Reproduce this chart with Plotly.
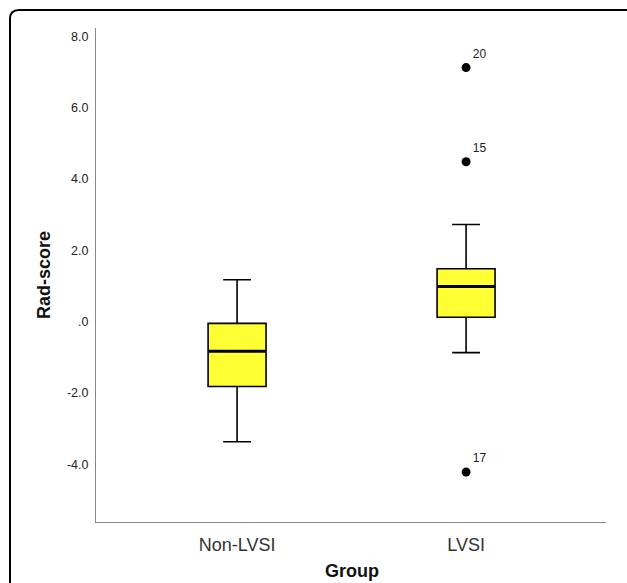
import plotly.graph_objects as go

# ---- data ----
groups = ["Non-LVSI", "LVSI"]
q1 = [-1.82, 0.12]
median = [-0.83, 0.98]
q3 = [-0.05, 1.48]
lower_fence = [-3.37, -0.87]
upper_fence = [1.17, 2.72]
outlier_group = [1, 1, 1]
outlier_values = [7.12, 4.48, -4.22]
outlier_ids = ["20", "15", "17"]
y_tick_vals = [-4, -2, 0, 2, 4, 6, 8]
y_tick_text = ["-4.0", "-2.0", ".0", "2.0", "4.0", "6.0", "8.0"]

W, H = 627, 583
ML, MR, MT, MB = 96, 21, 28, 61
PW, PH = W - ML - MR, H - MT - MB
BOX_W = 0.253
FONT = "Arial, Liberation Sans, sans-serif"

fig = go.Figure()
xs = list(range(len(groups)))
fig.add_trace(go.Box(
    x=xs, q1=q1, median=median, q3=q3,
    lowerfence=lower_fence, upperfence=upper_fence,
    width=BOX_W, whiskerwidth=0.48,
    fillcolor="#ffff33", line=dict(color="black", width=1.6),
    boxpoints=False, showlegend=False, hoverinfo="skip",
))
# thicker median lines
for i, m in enumerate(median):
    fig.add_trace(go.Scatter(
        x=[xs[i] - BOX_W / 2, xs[i] + BOX_W / 2], y=[m, m], mode="lines",
        line=dict(color="black", width=3), showlegend=False, hoverinfo="skip"))
# outliers
fig.add_trace(go.Scatter(
    x=outlier_group, y=outlier_values, mode="markers+text",
    marker=dict(color="black", size=9), text=outlier_ids,
    textposition="top right", textfont=dict(family=FONT, size=12, color="#222"),
    showlegend=False, hoverinfo="skip"))

def px_to_paper(px, py):
    return (px - ML) / PW, (H - MB - py) / PH

# rounded frame around the figure
x0, y0 = px_to_paper(10, 600)
x1, y1 = px_to_paper(10, 19)
x2, y2 = px_to_paper(10, 10)
x3, y3 = px_to_paper(19, 10)
x4, y4 = px_to_paper(660, 10)
fig.add_shape(type="path", xref="paper", yref="paper",
              path=f"M {x0},{y0} L {x1},{y1} Q {x2},{y2} {x3},{y3} L {x4},{y4}",
              line=dict(color="black", width=2))

# axis titles
gx, gy = px_to_paper(352, 571)
rx, ry = px_to_paper(44, 275)
fig.add_annotation(text="<b>Group</b>", xref="paper", yref="paper", x=gx, y=gy,
                   xanchor="center", yanchor="middle", showarrow=False,
                   font=dict(family=FONT, size=18, color="#111"))
fig.add_annotation(text="<b>Rad-score</b>", xref="paper", yref="paper", x=rx, y=ry,
                   xanchor="center", yanchor="middle", showarrow=False, textangle=-90,
                   font=dict(family=FONT, size=18, color="#111"))

fig.update_layout(
    width=W, height=H, margin=dict(l=ML, r=MR, t=MT, b=MB),
    paper_bgcolor="white", plot_bgcolor="white",
    font=dict(family=FONT, color="#222"),
    xaxis=dict(range=[-0.616, 1.611], tickvals=xs, ticktext=groups,
               showgrid=False, zeroline=False, showline=True, automargin=False,
               linecolor="#888", linewidth=1, ticks="", ticklabelstandoff=6,
               tickfont=dict(size=18, color="#333")),
    yaxis=dict(range=[-5.62, 8.23], tickvals=y_tick_vals, ticktext=y_tick_text,
               showgrid=False, zeroline=False, showline=True, automargin=False,
               linecolor="#888", linewidth=1, ticks="", ticklabelstandoff=4,
               tickfont=dict(size=12.5, color="#222")),
)
fig.write_html("out.html")
